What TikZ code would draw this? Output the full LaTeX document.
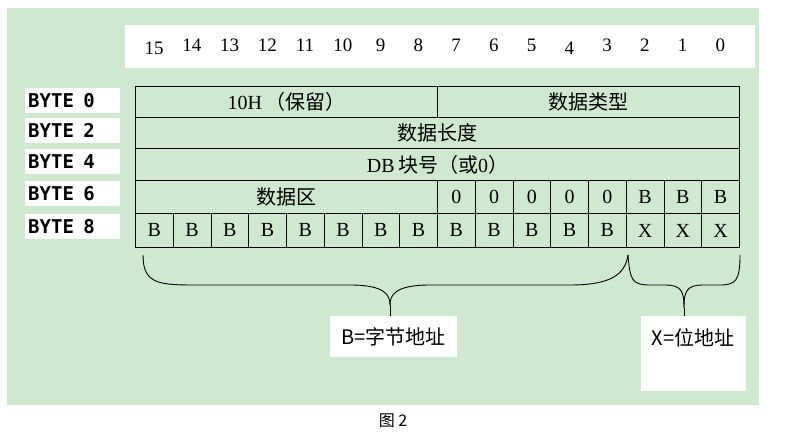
\documentclass[tikz,border=0pt]{standalone}
\usepackage{fontspec}
\setmainfont{Liberation Serif}
\newfontfamily\cjk{Noto Sans CJK SC}
\newfontfamily\bytefont{DejaVu Sans Mono}
\definecolor{bggreen}{RGB}{207,232,208}
\begin{document}
\begin{tikzpicture}[x=1pt,y=-1pt,
  cell/.style={draw=black,line width=0.9pt,anchor=north west,inner sep=0pt,font=\fontsize{20}{20}\selectfont},
  bit/.style={font=\fontsize{19}{19}\selectfont},
  bytelab/.style={fill=white,anchor=north west,minimum width=95pt,minimum height=25pt,inner sep=2pt,text width=89pt,align=left,font=\bytefont\bfseries\fontsize{19}{19}\selectfont},
  labbox/.style={fill=white,anchor=north west,inner sep=0pt,font=\cjk\fontsize{20}{20}\selectfont},
  brace/.style={line width=0.9pt}]
\useasboundingbox (0,0) rectangle (786,431);
\fill[white] (0,0) rectangle (786,431);
\fill[bggreen] (7,8) rectangle (759,405);
\fill[white] (125,25) rectangle (755,68);
% bit numbers
\foreach \b [count=\i from 0] in {15,14,13,12,11,10,9,8,7,6,5,4,3,2,1,0}
  \node[bit] (bit\b) at ({154+\i*37.75},{\b==15 ? 48 : (\b==4 ? 48 : 45)}) {\b};
% byte labels
\node[bytelab] (b0) at (25,88) {BYTE\ \,0};
\node[bytelab] (b2) at (25,118) {BYTE\ \,2};
\node[bytelab] (b4) at (25,149) {BYTE\ \,4};
\node[bytelab] (b6) at (25,181) {BYTE\ \,6};
\node[bytelab] (b8) at (25,214) {BYTE\ \,8};
% table rows
\node[cell,minimum width=302pt,minimum height=31pt] (r0a) at (135,86) {10H\,{\cjk（保留）}};
\node[cell,minimum width=302pt,minimum height=31pt] (r0b) at (437,86) {\cjk 数据类型};
\node[cell,minimum width=604pt,minimum height=31pt] (r1) at (135,117) {\cjk 数据长度};
\node[cell,minimum width=604pt,minimum height=32pt] (r2) at (135,148) {DB\,{\cjk 块号（或}0{\cjk ）}};
\node[cell,minimum width=302pt,minimum height=33pt] (r3) at (135,180) {\cjk 数据区};
\foreach \i in {8,...,12}
  \node[cell,minimum width=37.75pt,minimum height=33pt] (z\i) at ({135+\i*37.75},180) {0};
\foreach \i in {13,14,15}
  \node[cell,minimum width=37.75pt,minimum height=33pt] (bb\i) at ({135+\i*37.75},180) {B};
\foreach \i in {0,...,12}
  \node[cell,minimum width=37.75pt,minimum height=34pt] (c\i) at ({135+\i*37.75},213) {B};
\foreach \i in {13,14,15}
  \node[cell,minimum width=37.75pt,minimum height=34pt] (c\i) at ({135+\i*37.75},213) {X};
% label boxes
\node[labbox,minimum width=127pt,minimum height=41pt] (lb) at (330,316) {B=字节地址};
\node[labbox,minimum width=105pt,minimum height=75pt,anchor=north west] (lx) at (641,316) {};
\node[font=\cjk\fontsize{20}{20}\selectfont] (lxt) at (693,338) {X=位地址};
% braces
\coordinate (bl) at (143,255); \coordinate (bm) at (390,305); \coordinate (br) at (628,255);
\draw[brace] (bl) .. controls (143,285) and (160,285) .. (200,285) -- (350,285)
  .. controls (385,285) and (390,295) .. (bm);
\draw[brace] (br) .. controls (625,275) and (610,285) .. (570,285) -- (430,285)
  .. controls (395,285) and (390,295) .. (bm);
\coordinate (xl) at (628,255); \coordinate (xm) at (684,308); \coordinate (xr) at (740,255);
\draw[brace] (xl) .. controls (630,280) and (632,285) .. (650,285) -- (665,285)
  .. controls (682,285) and (684,292) .. (xm);
\draw[brace] (xr) .. controls (740,280) and (736,285) .. (720,285) -- (703,285)
  .. controls (686,285) and (684,292) .. (xm);
\draw[brace] (bm) -- (390,316);
\draw[brace] (xm) -- (684,316);
\node[font=\cjk\fontsize{16}{16}\selectfont] (cap) at (393,421) {图 2};
\end{tikzpicture}
\end{document}
